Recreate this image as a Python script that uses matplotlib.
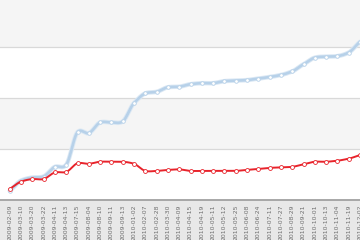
import numpy as np
import matplotlib
matplotlib.use("Agg")
import matplotlib.pyplot as plt
from matplotlib.patches import Rectangle

dates = ["2009-02-09", "2009-03-10", "2009-03-20", "2009-03-22", "2009-04-11",
         "2009-04-13", "2009-07-15", "2009-08-04", "2009-08-10", "2009-09-11",
         "2009-09-13", "2010-01-02", "2010-02-07", "2010-02-28", "2010-03-30",
         "2010-04-09", "2010-04-15", "2010-04-19", "2010-05-11", "2010-05-12",
         "2010-05-25", "2010-06-08", "2010-06-24", "2010-07-11", "2010-07-27",
         "2010-08-29", "2010-09-21", "2010-10-01", "2010-10-13", "2010-11-04",
         "2010-11-19", "2010-12-02"]

blue_values = [18, 38, 44, 46, 65, 69, 133, 131, 152, 152, 154, 190, 209, 212,
               221, 222, 227, 229, 229, 233, 234, 235, 238, 241, 245, 252, 266,
               279, 281, 282, 289, 310]

red_values = [22, 36, 41, 41, 54, 55, 72, 71, 75, 75, 75, 71, 57, 57, 59, 60,
              57, 57, 57, 57, 57, 59, 61, 63, 64, 65, 70, 75, 75, 77, 81, 88]

BLUE = "#b7d1e9"
RED = "#e8232b"


def spline(x, y, n=12):
    x = np.asarray(x, float)
    y = np.asarray(y, float)
    tx = np.gradient(x)
    ty = np.gradient(y)
    xs, ys = [], []
    for i in range(len(x) - 1):
        t = np.linspace(0, 1, n, endpoint=False)
        h00 = 2 * t**3 - 3 * t**2 + 1
        h10 = t**3 - 2 * t**2 + t
        h01 = -2 * t**3 + 3 * t**2
        h11 = t**3 - t**2
        xs.append(h00 * x[i] + h10 * tx[i] + h01 * x[i + 1] + h11 * tx[i + 1])
        ys.append(h00 * y[i] + h10 * ty[i] * 0.8 + h01 * y[i + 1] + h11 * ty[i + 1] * 0.8)
    xs.append([x[-1]])
    ys.append([y[-1]])
    return np.concatenate(xs), np.concatenate(ys)


fig = plt.figure(figsize=(3.6, 2.4), dpi=100)
fig.patch.set_facecolor("white")
# label area background
fig.patches.append(Rectangle((0, 0), 1, 40 / 240, transform=fig.transFigure,
                             facecolor="#e8e8e8", edgecolor="none", zorder=-5))

ax = fig.add_axes([0, 40 / 240, 1, 200 / 240])
ax.set_zorder(1)
ax.set_facecolor("white")
ymax = 392
ax.set_ylim(0, ymax)
x = np.arange(len(dates))
ax.set_xlim(-0.86, 31.0)

# alternating bands
ax.axhspan(100, 200, color="#f5f5f5", zorder=0, lw=0)
ax.axhspan(300, ymax, color="#f5f5f5", zorder=0, lw=0)
for g in (100, 200, 300):
    ax.axhline(g, color="#d9d9d9", lw=0.9, zorder=1)

bx, by = spline(x, blue_values)
ax.plot(bx, by, color="#dbe8f4", lw=3.2, zorder=2, solid_capstyle="round")
ax.plot(bx, by, color=BLUE, lw=1.9, zorder=3, solid_capstyle="round")
ax.plot(x, blue_values, linestyle="none", marker="o", markersize=2.6,
        markerfacecolor="white", markeredgecolor=BLUE, markeredgewidth=0.6, zorder=4)

rx, ry = spline(x, red_values)
ax.plot(rx, ry, color=RED, lw=1.4, zorder=5)
ax.plot(x, red_values, linestyle="none", marker="o", markersize=2.8,
        markerfacecolor="white", markeredgecolor=RED, markeredgewidth=0.6, zorder=6)

for s in ("top", "left", "right"):
    ax.spines[s].set_visible(False)
ax.spines["bottom"].set_color("#9a9a9a")
ax.spines["bottom"].set_linewidth(1.2)
ax.set_yticks([])
ax.set_xticks(x)
ax.set_xticklabels(dates, rotation=90, fontsize=4.4, color="#6e6e6e")
ax.tick_params(axis="x", length=0, pad=3)
for lbl in ax.get_xticklabels():
    lbl.set_verticalalignment("top")

fig.savefig("out.png", dpi=100)
